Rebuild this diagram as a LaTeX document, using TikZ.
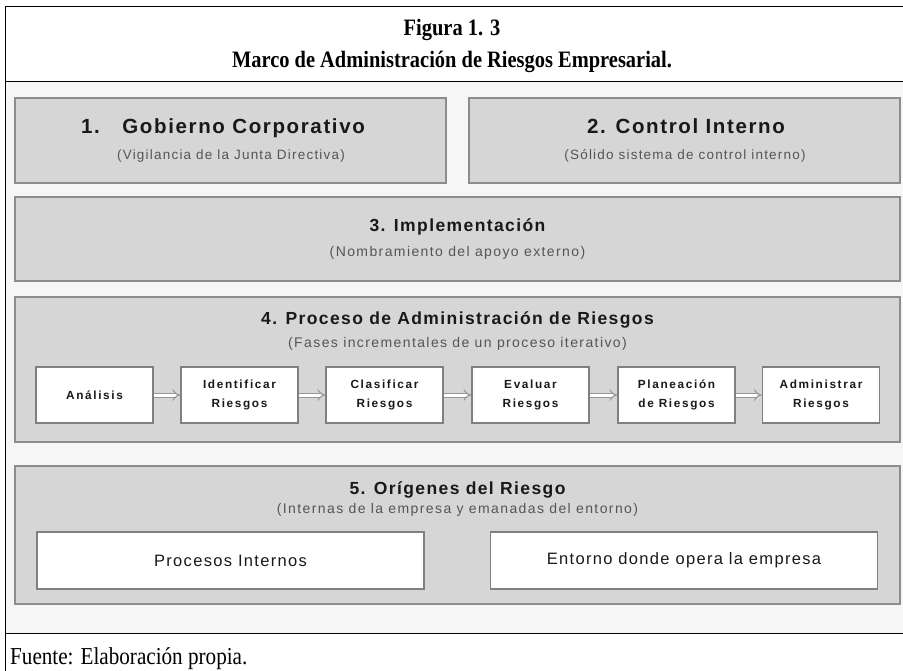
\documentclass[tikz,border=0pt]{standalone}
\usepackage{fontspec}
\setmainfont{Liberation Serif}
\newfontfamily\headfont[FakeStretch=0.87]{Liberation Serif}
\newfontfamily\panelfont[LetterSpace=8]{Liberation Sans}
\newfontfamily\notefont[LetterSpace=10]{Liberation Sans}
\newfontfamily\smallnotefont[LetterSpace=9]{Liberation Sans}
\newfontfamily\originfont[LetterSpace=8]{Liberation Sans}
\newfontfamily\phasefont[LetterSpace=14]{Liberation Sans}
\usetikzlibrary{arrows.meta}
\usetikzlibrary{positioning}
\definecolor{backFill}{RGB}{246,246,246}
\definecolor{panelFill}{RGB}{214,214,214}
\definecolor{panelEdge}{RGB}{140,140,140}
\definecolor{boxEdge}{RGB}{128,128,128}
\definecolor{flowGray}{RGB}{150,150,150}
\definecolor{noteText}{RGB}{85,85,85}
\definecolor{titleText}{RGB}{25,25,25}
\newcommand{\figtitle}[1]{{\headfont\bfseries\fontsize{23.5}{26}\selectfont #1}}
\newcommand{\phaselabel}[2]{#1\\#2}
\tikzset{
panel/.style={
  draw=panelEdge,
  fill=panelFill,
  line width=1.6pt,
  inner sep=0pt
  }
}
\tikzset{
phasebox/.style={
  draw=boxEdge,
  fill=white,
  line width=1.5pt,
  minimum width=117pt,
  minimum height=56pt,
  align=center,
  text=titleText,
  font={\phasefont\bfseries\fontsize{11.8}{19}\selectfont}
  }
}
\tikzset{
originbox/.style={
  draw=boxEdge,
  fill=white,
  line width=1.5pt,
  minimum width=387pt,
  minimum height=57pt,
  text=titleText,
  font={\originfont\fontsize{16.5}{19}\selectfont}
  }
}
\tikzset{
ptitle/.style={anchor=base, inner sep=0pt, text=titleText, font={\panelfont\bfseries\fontsize{17.5}{21}\selectfont}},
pbigtitle/.style={ptitle, font={\panelfont\bfseries\fontsize{20.5}{24}\selectfont}},
pnote/.style={anchor=base, inner sep=0pt, text=noteText, font={\notefont\fontsize{14}{17}\selectfont}},
psmallnote/.style={pnote, font={\smallnotefont\fontsize{13.5}{16}\selectfont}}
}
\tikzstyle{flow} = [draw=flowGray, double=white, double distance=3pt, line width=1pt, -{Implies}]
\tikzstyle{frame} = [draw=black, line width=1pt]
\tikzset{%
    boundingBox/.style={use as bounding box},
    }

\begin{document}
\begin{tikzpicture}[x=1pt, y=-1pt]
        \path[boundingBox] (0,0) rectangle (903,671);
        %frame
        \fill[backFill] (5,82) rectangle (903,633);
        \draw[frame] (903,7) -- (5,7) -- (5,671);
        \draw[frame] (5,82) -- (903,82);
        \draw[frame] (5,633) -- (903,633);

        %heading
        \node (fig) at (452,36) [anchor=base, inner sep=0pt] {\figtitle{Figura 1. 3}};
        \node (marco) at (452,68) [anchor=base, inner sep=0pt] {\figtitle{Marco de Administración de Riesgos Empresarial.}};

        %panels
        \node (gob) at (230.5,140.5) [panel, minimum width=431pt, minimum height=85pt] {};
        \node (ctl) at (684.5,140.5) [panel, minimum width=431pt, minimum height=85pt] {};
        \node (imp) at (457.5,239) [panel, minimum width=885pt, minimum height=84pt] {};
        \node (pro) at (457.5,369.5) [panel, minimum width=885pt, minimum height=145pt] {};
        \node (ori) at (457.5,535) [panel, minimum width=885pt, minimum height=138pt] {};

        \node (gobT) at (223,134) [pbigtitle] {1.\hspace{1.1em}Gobierno Corporativo};
        \node (gobN) at (231,160) [psmallnote] {(Vigilancia de la Junta Directiva)};
        \node (ctlT) at (686,134) [pbigtitle] {2. Control Interno};
        \node (ctlN) at (685,160) [psmallnote] {(Sólido sistema de control interno)};
        \node (impT) at (457.5,232) [ptitle] {3. Implementación};
        \node (impN) at (457.5,257) [pnote] {(Nombramiento del apoyo externo)};
        \node (proT) at (457.5,325) [ptitle] {4. Proceso de Administración de Riesgos};
        \node (proN) at (457.5,347) [pnote] {(Fases incrementales de un proceso iterativo)};
        \node (oriT) at (457.5,494) [ptitle] {5. Orígenes del Riesgo};
        \node (oriN) at (457.5,513) [pnote] {(Internas de la empresa y emanadas del entorno)};

        %phases
        \node (ana) at (94.5,395) [phasebox] {Análisis};
        \node (ide) at (239.5,395) [phasebox] {\phaselabel{Identificar}{Riesgos}};
        \node (cla) at (384.5,395) [phasebox] {\phaselabel{Clasificar}{Riesgos}};
        \node (eva) at (530.5,395) [phasebox] {\phaselabel{Evaluar}{Riesgos}};
        \node (pla) at (676.5,395) [phasebox] {\phaselabel{Planeación}{de Riesgos}};
        \node (adm) at (821,395) [phasebox] {\phaselabel{Administrar}{Riesgos}};

        %origins
        \node (int) at (230.5,560.5) [originbox] {Procesos Internos};
        \node (ent) at (684,560.5) [originbox] {Entorno donde opera la empresa};

        %edges
        \draw[flow] (ana) -- (ide);
        \draw[flow] (ide) -- (cla);
        \draw[flow] (cla) -- (eva);
        \draw[flow] (eva) -- (pla);
        \draw[flow] (pla) -- (adm);

        %footer
        \node (src) at (10,664) [anchor=base west, inner sep=0pt, font={\headfont\fontsize{24.3}{27}\selectfont}] {Fuente: Elaboración propia.};
\end{tikzpicture}
\end{document}
